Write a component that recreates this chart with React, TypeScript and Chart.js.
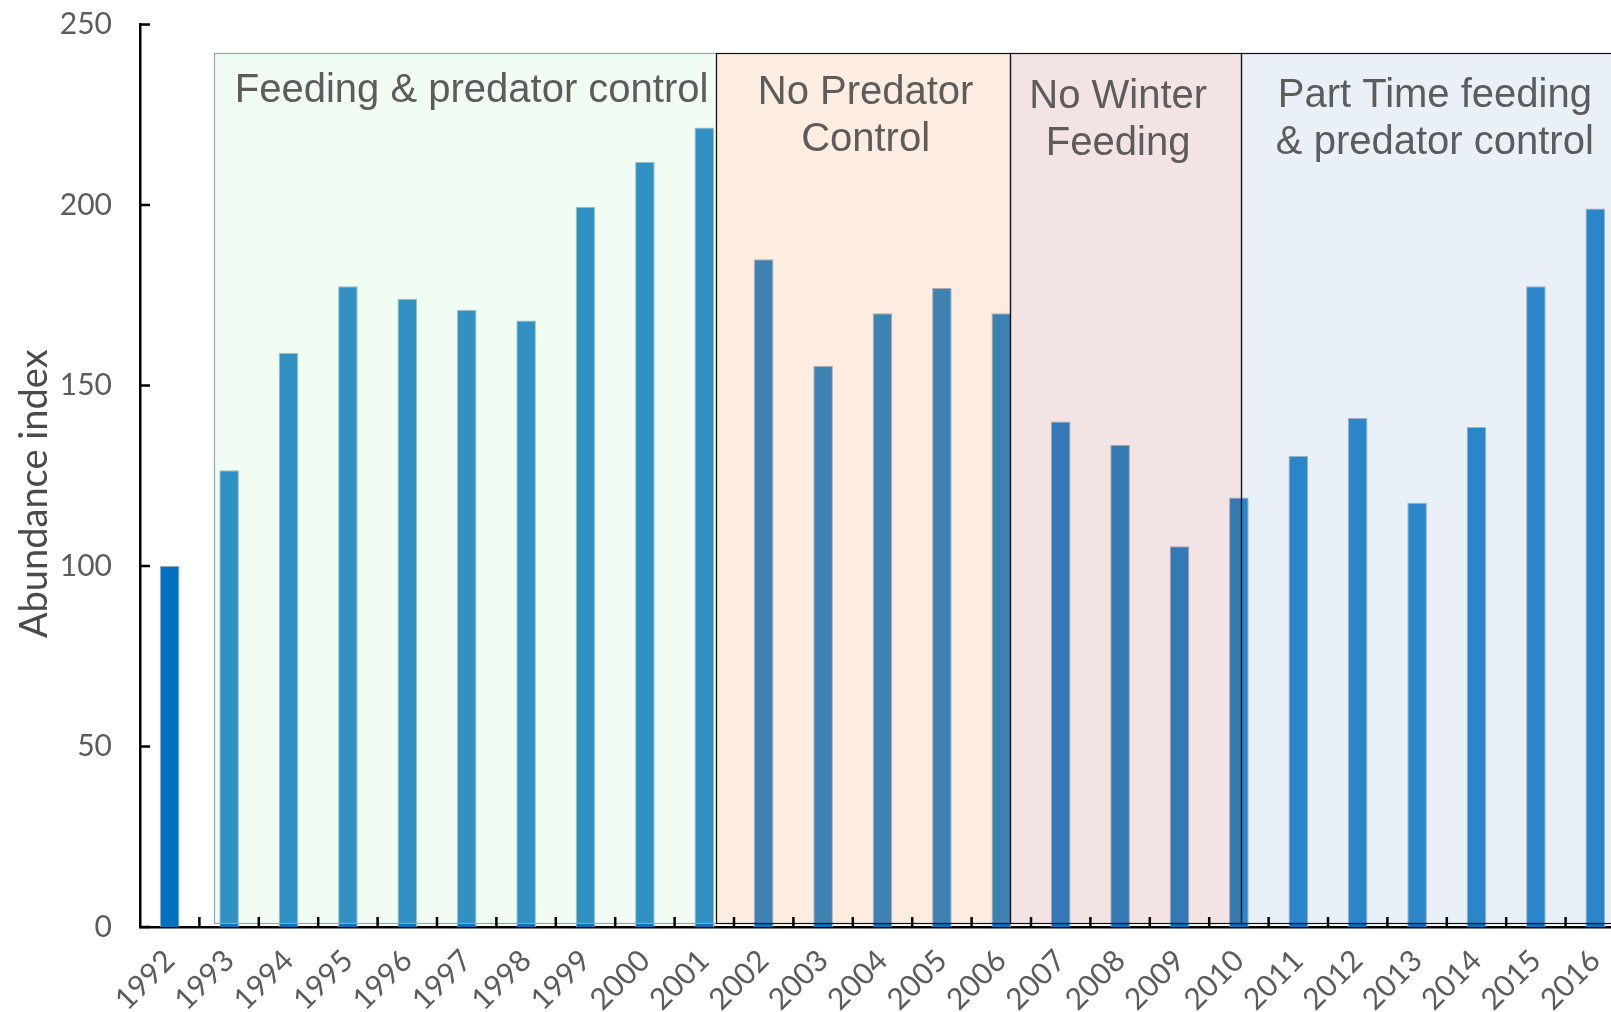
import React, { useEffect, useRef } from 'react';
import { Chart, registerables } from 'chart.js';

Chart.register(...registerables);

// ---------- data ----------
const years = [
  '1992', '1993', '1994', '1995', '1996', '1997', '1998', '1999', '2000', '2001',
  '2002', '2003', '2004', '2005', '2006', '2007', '2008', '2009', '2010',
  '2011', '2012', '2013', '2014', '2015', '2016',
];
const abundance = [
  100, 126.5, 159, 177.5, 174, 171, 168, 199.5, 212, 221.5,
  185, 155.5, 170, 177, 170, 140, 133.5, 105.5, 119,
  130.5, 141, 117.5, 138.5, 177.5, 199,
];
const yTickValues = [0, 50, 100, 150, 200, 250];
const regionLines = [
  ['Feeding & predator control'],
  ['No Predator', 'Control'],
  ['No Winter', 'Feeding'],
  ['Part Time feeding', '& predator control'],
];
const regionFirstYear = ['1993', '2002', '2007', '2011'];
const regionLastYear = ['2001', '2006', '2010', '2016'];
const regionTopValue = 242;
const regionBottomValue = 1;
const yTitle = 'Abundance index';

// ---------- styles ----------
const REGION_FILLS = [
  'rgba(199,243,203,0.25)',
  'rgba(247,184,134,0.25)',
  'rgba(207,143,143,0.25)',
  'rgba(171,195,227,0.25)',
];
const REGION_BORDERS = ['#8ea4c4', '#111', '#111', '#111'];
const REGION_START_PAD = -0.26;
const REGION_END_PAD = [0.19, 0.14, 0.03, 0.5];
const REGION_TEXT_DX = [7, 3, -7, 2];
const REGION_TEXT_DY = [0, 2, 6, 5];
const TEXT_GREY = '#5c5c5c';

const overlayPlugin = {
  id: 'regionOverlay',
  afterDatasetsDraw(chart: any) {
    const { ctx, chartArea, scales } = chart;
    const x = scales.x;
    const y = scales.y;
    const catW = x.getPixelForValue(1) - x.getPixelForValue(0);
    const top = y.getPixelForValue(regionTopValue);
    const bottom = y.getPixelForValue(regionBottomValue);
    const edges: number[][] = [];
    let left = x.getPixelForValue(years.indexOf(regionFirstYear[0])) + REGION_START_PAD * catW;
    for (let i = 0; i < regionLines.length; i++) {
      const right = x.getPixelForValue(years.indexOf(regionLastYear[i])) + REGION_END_PAD[i] * catW;
      edges.push([left, right]);
      left = right;
    }
    ctx.save();
    edges.forEach(([l, r], i) => {
      ctx.fillStyle = REGION_FILLS[i];
      ctx.fillRect(l, top, r - l, bottom - top);
    });
    ctx.lineWidth = 1.2;
    edges.forEach(([l, r], i) => {
      ctx.strokeStyle = REGION_BORDERS[i];
      ctx.strokeRect(Math.round(l) + 0.5, Math.round(top) + 0.5, Math.round(r - l), Math.round(bottom - top));
    });
    // region labels
    ctx.fillStyle = TEXT_GREY;
    ctx.font = '40px "Liberation Sans", Arial, sans-serif';
    ctx.textAlign = 'center';
    ctx.textBaseline = 'alphabetic';
    edges.forEach(([l, r], i) => {
      const cx = (l + r) / 2 + REGION_TEXT_DX[i];
      regionLines[i].forEach((line, j) => {
        ctx.fillText(line, cx, top + 49 + REGION_TEXT_DY[i] + j * 47);
      });
    });
    // inward tick marks
    ctx.strokeStyle = '#000';
    ctx.lineWidth = 2.5;
    ctx.beginPath();
    yTickValues.forEach((v) => {
      const py = y.getPixelForValue(v);
      ctx.moveTo(chartArea.left, py);
      ctx.lineTo(chartArea.left + 10, py);
    });
    for (let i = 1; i <= years.length; i++) {
      const px = x.getPixelForValue(i - 1) + catW / 2;
      ctx.moveTo(px, chartArea.bottom);
      ctx.lineTo(px, chartArea.bottom - 10);
    }
    ctx.stroke();
    // y axis title
    ctx.save();
    ctx.translate(chartArea.left - 105, (chartArea.top + chartArea.bottom) / 2 + 18);
    ctx.rotate(-Math.PI / 2);
    ctx.font = '38px Lato, "Open Sans", sans-serif';
    ctx.fillStyle = '#4a4a4a';
    ctx.textAlign = 'center';
    ctx.textBaseline = 'middle';
    ctx.fillText(yTitle, 0, 0);
    ctx.restore();
    ctx.restore();
  },
};

export default function App() {
  const canvasRef = useRef<HTMLCanvasElement | null>(null);

  useEffect(() => {
    const canvas = canvasRef.current;
    if (!canvas) return;
    const chart = new Chart(canvas, {
      type: 'bar',
      data: {
        labels: years,
        datasets: [
          {
            label: 'Abundance index',
            data: abundance,
            backgroundColor: '#0070c0',
            borderColor: '#9aaabb',
            borderWidth: 1,
            barPercentage: 0.33,
            categoryPercentage: 1,
          },
        ],
      },
      options: {
        responsive: false,
        maintainAspectRatio: false,
        animation: false,
        devicePixelRatio: 1,
        layout: { padding: { top: 24.5, right: 0, left: 0, bottom: 0 } },
        plugins: {
          legend: { display: false },
          tooltip: { enabled: false },
        },
        scales: {
          x: {
            type: 'category',
            offset: true,
            grid: { display: false },
            border: { display: true, color: '#000', width: 2.5 },
            ticks: {
              autoSkip: false,
              maxRotation: 45,
              minRotation: 45,
              padding: 8,
              color: TEXT_GREY,
              font: { family: 'Lato, "Open Sans", sans-serif', size: 30 },
            },
            afterFit: (scale: any) => {
              scale.height = 85;
              scale.paddingLeft = 0;
              scale.paddingRight = 0;
            },
          },
          y: {
            min: 0,
            max: 250,
            grid: { display: false },
            border: { display: true, color: '#000', width: 2.5 },
            ticks: {
              stepSize: 50,
              padding: 20,
              color: TEXT_GREY,
              font: { family: 'Lato, "Open Sans", sans-serif', size: 30 },
            },
            afterFit: (scale: any) => {
              scale.width = 140;
              scale.paddingTop = 0;
              scale.paddingBottom = 0;
            },
          },
        },
      },
      plugins: [overlayPlugin],
    });
    return () => chart.destroy();
  }, []);

  return (
    <div
      style={{
        position: 'fixed',
        left: 0,
        top: 0,
        width: 1611,
        height: 1012,
        overflow: 'hidden',
        background: '#fff',
      }}
    >
      <canvas
        ref={canvasRef}
        width={1625}
        height={1012}
        style={{ display: 'block', width: 1625, height: 1012 }}
      />
    </div>
  );
}
